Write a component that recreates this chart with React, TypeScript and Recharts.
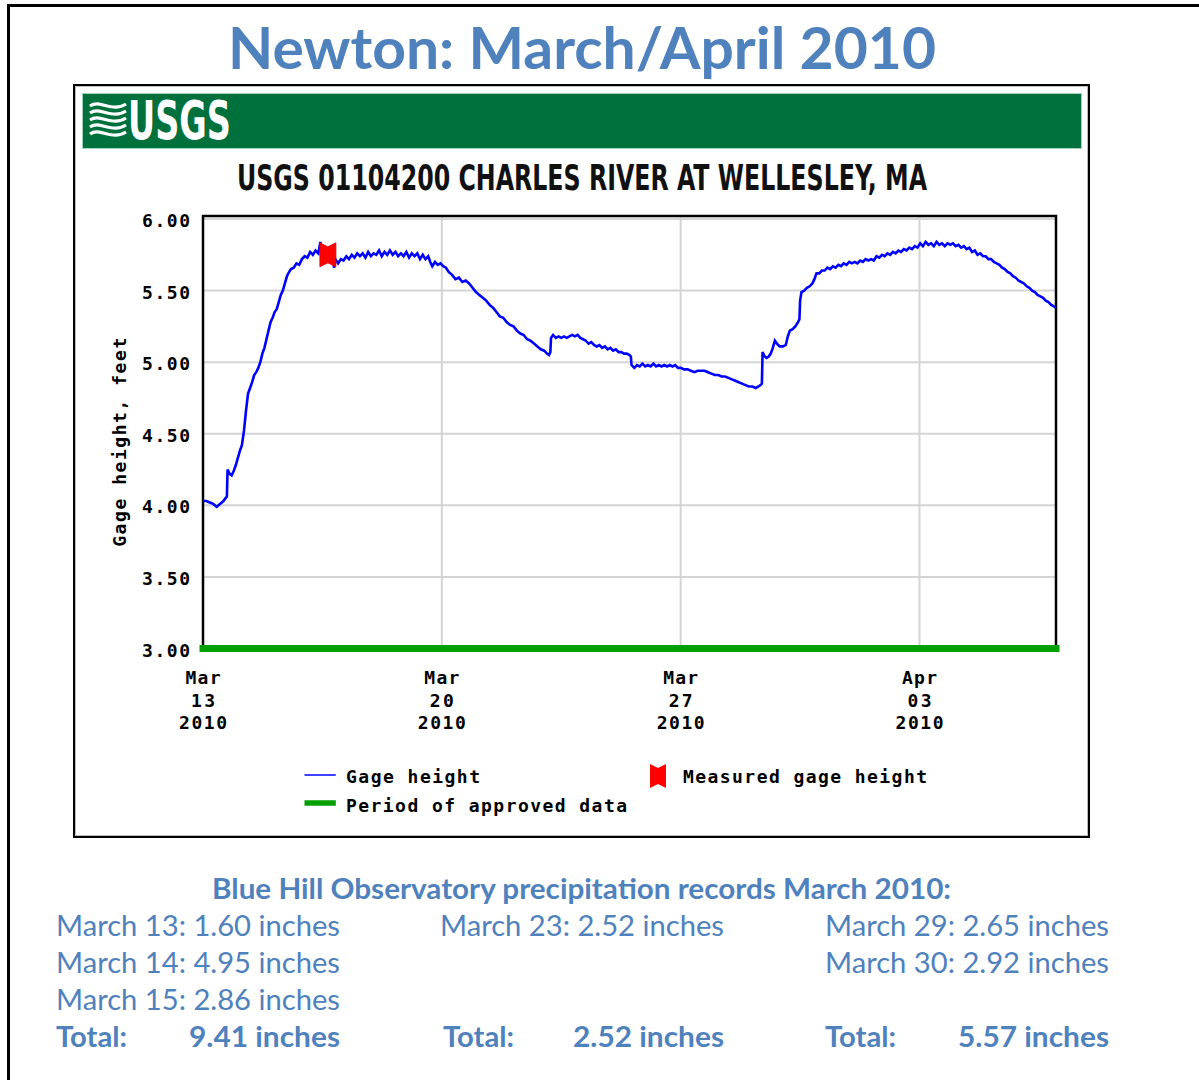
import React from "react";
import {
  ComposedChart,
  Line,
  Scatter,
  XAxis,
  YAxis,
  CartesianGrid,
  ReferenceArea,
  Legend,
} from "recharts";

const SLIDE_BLUE = "#4F81BD";
const MONO = "'DejaVu Sans Mono', 'Liberation Mono', monospace";
const SANS = "Lato, 'Open Sans', sans-serif";
const NARROW = "'Liberation Sans Narrow', 'DejaVu Sans Condensed', 'Roboto Condensed', sans-serif";

// [days since Mar 13 2010 00:00, gage height ft]
const gageReadings: [number, number][] = [
  [0, 4.03], [0.1, 4.03], [0.2, 4.02], [0.3, 4.01], [0.4, 3.99], [0.5, 4.01], [0.6, 4.03],
  [0.66, 4.05], [0.7, 4.06], [0.72, 4.25], [0.78, 4.22], [0.84, 4.21], [0.9, 4.24],
  [0.96, 4.28], [1.02, 4.33], [1.08, 4.38], [1.14, 4.42], [1.2, 4.52], [1.26, 4.66],
  [1.32, 4.78], [1.38, 4.82], [1.44, 4.86], [1.5, 4.91], [1.56, 4.93], [1.62, 4.96],
  [1.68, 5.0], [1.74, 5.06], [1.8, 5.1], [1.86, 5.16], [1.92, 5.22], [1.98, 5.28],
  [2.04, 5.31], [2.1, 5.35], [2.16, 5.37], [2.22, 5.42], [2.28, 5.47], [2.34, 5.5],
  [2.4, 5.55], [2.46, 5.6], [2.5, 5.62], [2.58, 5.65], [2.66, 5.66], [2.74, 5.69],
  [2.82, 5.68], [2.9, 5.72], [2.98, 5.74], [3.06, 5.73], [3.14, 5.77], [3.22, 5.75],
  [3.3, 5.78], [3.38, 5.76], [3.44, 5.84], [3.48, 5.76], [3.56, 5.78], [3.64, 5.75],
  [3.72, 5.76], [3.8, 5.73], [3.84, 5.66], [3.88, 5.72], [3.96, 5.69], [4.04, 5.72],
  [4.12, 5.71], [4.2, 5.74], [4.28, 5.72], [4.36, 5.75], [4.44, 5.73], [4.52, 5.76],
  [4.6, 5.74], [4.68, 5.76], [4.76, 5.73], [4.84, 5.77], [4.92, 5.74], [5.0, 5.76],
  [5.08, 5.75], [5.16, 5.78], [5.24, 5.74], [5.32, 5.77], [5.4, 5.75], [5.48, 5.78],
  [5.56, 5.75], [5.64, 5.77], [5.72, 5.74], [5.8, 5.76], [5.88, 5.74], [5.96, 5.77],
  [6.04, 5.73], [6.12, 5.76], [6.2, 5.74], [6.28, 5.76], [6.36, 5.72], [6.44, 5.75],
  [6.52, 5.72], [6.6, 5.74], [6.66, 5.7], [6.72, 5.67], [6.8, 5.7], [6.88, 5.68],
  [6.96, 5.69], [7.04, 5.67], [7.12, 5.66], [7.2, 5.63], [7.3, 5.61], [7.4, 5.58],
  [7.5, 5.59], [7.6, 5.56], [7.7, 5.57], [7.8, 5.55], [7.9, 5.52], [8.0, 5.49],
  [8.1, 5.47], [8.2, 5.45], [8.3, 5.43], [8.4, 5.4], [8.5, 5.38], [8.6, 5.35],
  [8.7, 5.32], [8.8, 5.31], [8.9, 5.28], [9.0, 5.26], [9.1, 5.25], [9.2, 5.22],
  [9.3, 5.2], [9.4, 5.19], [9.5, 5.16], [9.6, 5.15], [9.7, 5.13], [9.8, 5.11],
  [9.9, 5.09], [10.0, 5.08], [10.08, 5.06], [10.14, 5.05], [10.18, 5.07], [10.2, 5.17],
  [10.26, 5.19], [10.34, 5.17], [10.42, 5.18], [10.5, 5.17], [10.58, 5.18], [10.66, 5.17],
  [10.74, 5.18], [10.82, 5.19], [10.9, 5.18], [10.98, 5.19], [11.06, 5.17], [11.14, 5.16],
  [11.22, 5.15], [11.3, 5.13], [11.38, 5.14], [11.46, 5.12], [11.54, 5.11], [11.62, 5.12],
  [11.7, 5.1], [11.78, 5.11], [11.86, 5.09], [11.94, 5.1], [12.02, 5.08], [12.1, 5.09],
  [12.18, 5.07], [12.26, 5.07], [12.34, 5.06], [12.42, 5.06], [12.5, 5.05], [12.54, 5.04],
  [12.56, 4.98], [12.64, 4.96], [12.72, 4.98], [12.8, 4.97], [12.88, 4.99], [12.96, 4.97],
  [13.04, 4.98], [13.12, 4.97], [13.2, 4.99], [13.28, 4.97], [13.36, 4.98], [13.44, 4.97],
  [13.52, 4.98], [13.6, 4.97], [13.68, 4.98], [13.76, 4.97], [13.84, 4.98], [13.92, 4.96],
  [14.0, 4.96], [14.1, 4.95], [14.2, 4.95], [14.3, 4.94], [14.4, 4.93], [14.5, 4.94],
  [14.6, 4.94], [14.7, 4.94], [14.8, 4.93], [14.9, 4.92], [15.0, 4.91], [15.1, 4.91],
  [15.2, 4.9], [15.3, 4.9], [15.4, 4.89], [15.5, 4.88], [15.6, 4.87], [15.7, 4.86],
  [15.8, 4.85], [15.9, 4.84], [16.0, 4.83], [16.1, 4.83], [16.2, 4.82], [16.28, 4.83],
  [16.34, 4.84], [16.38, 4.85], [16.4, 5.07], [16.46, 5.04], [16.52, 5.03], [16.58, 5.04],
  [16.64, 5.06], [16.7, 5.1], [16.76, 5.15], [16.82, 5.13], [16.9, 5.11], [17.0, 5.11],
  [17.08, 5.12], [17.14, 5.18], [17.2, 5.22], [17.28, 5.23], [17.36, 5.25], [17.44, 5.28],
  [17.48, 5.3], [17.5, 5.43], [17.54, 5.49], [17.62, 5.5], [17.7, 5.52], [17.78, 5.53],
  [17.86, 5.55], [17.92, 5.58], [17.98, 5.62], [18.06, 5.62], [18.14, 5.64], [18.22, 5.64],
  [18.3, 5.66], [18.38, 5.65], [18.46, 5.67], [18.54, 5.66], [18.62, 5.68], [18.7, 5.67],
  [18.78, 5.69], [18.86, 5.68], [18.94, 5.7], [19.02, 5.69], [19.1, 5.7], [19.18, 5.69],
  [19.26, 5.71], [19.34, 5.7], [19.42, 5.72], [19.5, 5.71], [19.58, 5.72], [19.66, 5.71],
  [19.74, 5.74], [19.82, 5.73], [19.9, 5.75], [19.98, 5.74], [20.06, 5.76], [20.14, 5.75],
  [20.22, 5.77], [20.3, 5.76], [20.38, 5.78], [20.46, 5.77], [20.54, 5.79], [20.62, 5.78],
  [20.7, 5.8], [20.78, 5.79], [20.86, 5.81], [20.94, 5.8], [21.02, 5.83], [21.1, 5.81],
  [21.18, 5.84], [21.26, 5.82], [21.34, 5.83], [21.42, 5.81], [21.5, 5.84], [21.58, 5.82],
  [21.66, 5.83], [21.74, 5.81], [21.82, 5.83], [21.9, 5.82], [21.98, 5.83], [22.06, 5.81],
  [22.14, 5.82], [22.22, 5.8], [22.3, 5.81], [22.38, 5.79], [22.46, 5.8], [22.54, 5.77],
  [22.62, 5.78], [22.7, 5.75], [22.78, 5.76], [22.86, 5.74], [22.94, 5.74], [23.02, 5.72],
  [23.1, 5.72], [23.18, 5.7], [23.26, 5.69], [23.34, 5.68], [23.42, 5.66], [23.5, 5.65],
  [23.58, 5.63], [23.66, 5.62], [23.74, 5.6], [23.82, 5.59], [23.9, 5.57], [23.98, 5.56],
  [24.06, 5.55], [24.14, 5.53], [24.22, 5.52], [24.3, 5.5], [24.38, 5.49], [24.46, 5.47],
  [24.54, 5.46], [24.62, 5.45], [24.7, 5.43], [24.78, 5.42], [24.86, 5.4], [24.94, 5.39],
  [25.0, 5.38],
];
const measuredReadings: [number, number][] = [[3.66, 5.75]];
const approvedPeriod: [number, number][] = [[0, 3], [25, 3]];

const yTicks = [3, 3.5, 4, 4.5, 5, 5.5, 6];
const xTickDays = [0, 7, 14, 21];
const xTickMonths = ["Mar", "Mar", "Mar", "Apr"];
const xTickDates = ["13", "20", "27", "03"];
const xTickYears = ["2010", "2010", "2010", "2010"];

const stormDates = [["March 13", "March 14", "March 15"], ["March 23"], ["March 29", "March 30"]];
const stormInches = [[1.6, 4.95, 2.86], [2.52], [2.65, 2.92]];
const stormTotals = [9.41, 2.52, 5.57];

const toRows = (pairs: [number, number][]) => pairs.map(([day, ft]) => ({ day, ft }));
const gageData = toRows(gageReadings);
const measuredData = toRows(measuredReadings);
const approvedData = toRows(approvedPeriod);

const monoText = { fontFamily: MONO, fontWeight: 700, fontSize: 18, fill: "#000" };

function renderYTick(props: any) {
  const { x, y, payload } = props;
  return (
    <text x={x} y={y + 1.5} textAnchor="end" dominantBaseline="central" textLength={48} lengthAdjust="spacing" {...monoText}>
      {Number(payload.value).toFixed(2)}
    </text>
  );
}

function renderXTick(props: any) {
  const { x, y, payload } = props;
  const i = xTickDays.indexOf(payload.value);
  return (
    <g>
      <text x={x} y={y} textAnchor="middle" dominantBaseline="central" textLength={35} lengthAdjust="spacing" {...monoText}>
        {xTickMonths[i]}
      </text>
      <text x={x} y={y + 23} textAnchor="middle" dominantBaseline="central" textLength={24} lengthAdjust="spacing" {...monoText}>
        {xTickDates[i]}
      </text>
      <text x={x} y={y + 45.5} textAnchor="middle" dominantBaseline="central" textLength={48} lengthAdjust="spacing" {...monoText}>
        {xTickYears[i]}
      </text>
    </g>
  );
}

function renderYLabel(props: any) {
  const vb = props.viewBox || { x: 0, y: 216, width: 203, height: 432.5 };
  const cx = vb.x + vb.width - 83.5;
  const cy = vb.y + vb.height / 2 + 10;
  return (
    <text x={cx} y={cy} transform={`rotate(-90, ${cx}, ${cy})`} textAnchor="middle" dominantBaseline="central" textLength={209} lengthAdjust="spacing" {...monoText}>
      Gage height, feet
    </text>
  );
}

const markerPath = (cx: number, cy: number) =>
  `M${cx - 8},${cy - 12} L${cx},${cy - 8} L${cx + 8},${cy - 12} L${cx + 8},${cy + 12} L${cx},${cy + 8} L${cx - 8},${cy + 12} Z`;

function renderMarker(props: any) {
  const { cx, cy } = props;
  return <path d={markerPath(cx, cy)} fill="#FF0000" stroke="#E00000" strokeWidth={0.8} />;
}

function renderLegend() {
  return (
    <svg width={700} height={70} style={{ display: "block" }}>
      <line x1={24.5} x2={55.8} y1={17} y2={17} stroke="#0000FF" strokeWidth={1.5} />
      <text x={66} y={18.5} dominantBaseline="central" textLength={134} lengthAdjust="spacing" {...monoText}>Gage height</text>
      <path d={markerPath(378, 18)} fill="#FF0000" />
      <text x={403} y={18.5} dominantBaseline="central" textLength={244} lengthAdjust="spacing" {...monoText}>Measured gage height</text>
      <line x1={24.5} x2={55.8} y1={45} y2={45} stroke="#00A000" strokeWidth={5.5} />
      <text x={66} y={47} dominantBaseline="central" textLength={281} lengthAdjust="spacing" {...monoText}>Period of approved data</text>
    </svg>
  );
}

const colX = [56, 440, 825];
const rowBase = [936, 973, 1010];
const totalBase = 1047;

function SlideText() {
  return (
    <svg width={1199} height={1080} style={{ position: "absolute", left: 0, top: 0 }}>
      <text x={228} y={69} fontFamily={SANS} fontWeight={700} fontSize={57} fill={SLIDE_BLUE} textLength={708} lengthAdjust="spacingAndGlyphs">
        Newton: March/April 2010
      </text>
      {/* USGS identifier */}
      <g stroke="#fff" strokeWidth={3.2} fill="none">
        {[106, 113, 120, 127, 134].map((w) => (
          <path key={w} d={`M90,${w} C100,${w - 7} 112,${w + 7} 126,${w - 2}`} />
        ))}
      </g>
      <text x={128} y={139} fontFamily={NARROW} fontStretch="condensed" fontWeight={700} fontSize={54} fill="#fff" textLength={103} lengthAdjust="spacingAndGlyphs">
        USGS
      </text>
      <text x={237} y={190} fontFamily={NARROW} fontStretch="condensed" fontWeight={700} fontSize={35} fill="#111" textLength={690} lengthAdjust="spacingAndGlyphs">
        USGS 01104200 CHARLES RIVER AT WELLESLEY, MA
      </text>

      <text x={212} y={899} fontFamily={SANS} fontWeight={700} fontSize={28} fill={SLIDE_BLUE} textLength={739} lengthAdjust="spacingAndGlyphs">
        Blue Hill Observatory precipitation records March 2010:
      </text>
      {stormDates.map((dates, c) =>
        dates.map((d, r) => (
          <text key={`${c}-${r}`} x={colX[c]} y={rowBase[r]} fontFamily={SANS} fontSize={28} fill={SLIDE_BLUE} textLength={284} lengthAdjust="spacingAndGlyphs">
            {`${d}: ${stormInches[c][r].toFixed(2)} inches`}
          </text>
        ))
      )}
      {stormTotals.map((t, c) => (
        <g key={`t${c}`}>
          <text x={colX[c] + (c === 1 ? 3 : 0)} y={totalBase} fontFamily={SANS} fontWeight={700} fontSize={28} fill={SLIDE_BLUE} textLength={71} lengthAdjust="spacingAndGlyphs">
            Total:
          </text>
          <text x={colX[c] + 133} y={totalBase} fontFamily={SANS} fontWeight={700} fontSize={28} fill={SLIDE_BLUE} textLength={151} lengthAdjust="spacingAndGlyphs">
            {`${t.toFixed(2)} inches`}
          </text>
        </g>
      ))}
    </svg>
  );
}

export default function App() {
  return (
    <div style={{ position: "absolute", left: 0, top: 0, width: 1199, height: 1080, background: "#fff", overflow: "hidden" }}>
      <div style={{ position: "absolute", left: 7, top: 4, width: 1192, height: 3, background: "#000" }} />
      <div style={{ position: "absolute", left: 7, top: 4, width: 3, height: 1076, background: "#000" }} />
      <div
        style={{
          position: "absolute", left: 73, top: 84, width: 1017, height: 754,
          border: "2px solid #000", boxSizing: "border-box", boxShadow: "inset 0 0 0 1px #bbb",
        }}
      />
      <div
        style={{
          position: "absolute", left: 82, top: 93, width: 1000, height: 56,
          background: "#00703C", border: "1px solid #9fd3bf", boxSizing: "border-box",
        }}
      />
      <SlideText />
      <ComposedChart
        width={1199}
        height={1080}
        margin={{ top: 216, right: 143, bottom: 371.5, left: 0 }}
        style={{ position: "absolute", left: 0, top: 0 }}
      >
        <CartesianGrid stroke="#D4D4D4" strokeWidth={2} />
        <XAxis
          type="number"
          dataKey="day"
          domain={[0, 25]}
          ticks={xTickDays}
          height={60}
          axisLine={false}
          tickLine={false}
          tickSize={0}
          tickMargin={28.5}
          tick={renderXTick}
        />
        <YAxis
          type="number"
          dataKey="ft"
          domain={[3, 6.021]}
          ticks={yTicks}
          width={203}
          axisLine={false}
          tickLine={false}
          tickSize={0}
          tickMargin={13}
          tick={renderYTick}
          label={renderYLabel}
        />
        <ReferenceArea x1={0} x2={25} y1={3} y2={6.021} fill="none" stroke="#000" strokeWidth={2.5} />
        <Line
          data={approvedData}
          dataKey="ft"
          name="Period of approved data"
          stroke="#00A000"
          strokeWidth={7}
          strokeLinecap="square"
          dot={false}
          isAnimationActive={false}
        />
        <Line
          data={gageData}
          dataKey="ft"
          name="Gage height"
          type="linear"
          stroke="#0000FF"
          strokeWidth={2.6}
          dot={false}
          isAnimationActive={false}
        />
        <Scatter
          data={measuredData}
          dataKey="ft"
          name="Measured gage height"
          shape={renderMarker}
          isAnimationActive={false}
        />
        <Legend
          layout="horizontal"
          verticalAlign="middle"
          align="center"
          wrapperStyle={{ left: 280, top: 758, width: 700, height: 70 }}
          content={renderLegend}
        />
      </ComposedChart>
    </div>
  );
}
